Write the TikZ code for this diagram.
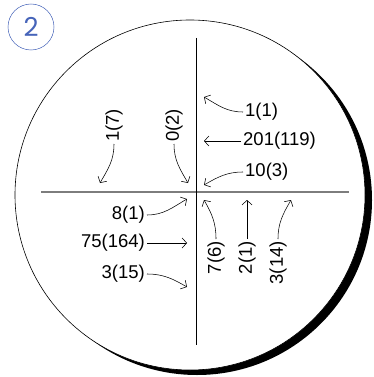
\documentclass[tikz,border=0pt]{standalone}
\usepackage{fontspec}
\setmainfont{Liberation Sans}
\newfontfamily\badgefont{Poppins}
\definecolor{badgeblue}{RGB}{70,100,185}
\definecolor{axisgray}{RGB}{125,125,125}
\usetikzlibrary{arrows.meta,positioning}

\begin{document}
\begin{tikzpicture}[x=1pt,y=-1pt,
    lbl/.style={font=\fontsize{18.5}{21}\selectfont, inner sep=2pt},
    arr/.style={-{Straight Barb[length=4.5pt,width=10pt]}, line width=0.55pt}]
    \useasboundingbox (0,0) rectangle (374,377);

    % Disc with its shadow
    \fill[black] (197,200) circle (175);
    \filldraw[fill=white, draw=black, line width=0.6pt] (190,195) circle (175);

    % Badge
    \node[circle, draw=badgeblue, line width=0.5pt, minimum size=46pt, inner sep=0pt,
          text=badgeblue, font=\badgefont\fontsize{26}{26}\selectfont] (badge) at (31,27) {2};

    % Cross
    \coordinate (vtop) at (196,38);
    \coordinate (vbot) at (196,345);
    \coordinate (hleft) at (41,192);
    \coordinate (hright) at (349,192);
    \draw[axisgray, line width=1.1pt] (hleft) -- (hright);
    \draw[line width=0.7pt] (vtop) -- (vbot);

    % Top left
    \node[lbl, rotate=90, anchor=west] (nw1) at (114,144) {1(7)};
    \node[lbl, rotate=90, anchor=west] (nw2) at (174,144) {0(2)};
    \coordinate (nw1h) at (100,183);
    \coordinate (nw2h) at (188,183);
    \draw[arr] (nw1.west) to[out=-90, in=60] (nw1h);
    \draw[arr] (nw2.west) to[out=-90, in=120] (nw2h);

    % Top right
    \node[lbl, anchor=west] (ne1) at (243,112) {1(1)};
    \node[lbl, anchor=west] (ne2) at (241,141) {201(119)};
    \node[lbl, anchor=west] (ne3) at (243,172) {10(3)};
    \coordinate (ne1h) at (204,97);
    \coordinate (ne2h) at (204,141);
    \coordinate (ne3h) at (204,185);
    \draw[arr] (ne1.west) to[out=180, in=-30] (ne1h);
    \draw[arr] (ne2.west) -- (ne2h);
    \draw[arr] (ne3.west) to[out=180, in=30] (ne3h);

    % Bottom left
    \node[lbl, anchor=east] (sw1) at (147,215) {8(1)};
    \node[lbl, anchor=east] (sw2) at (147,243) {75(164)};
    \node[lbl, anchor=east] (sw3) at (147,274) {3(15)};
    \coordinate (sw1h) at (187,199);
    \coordinate (sw2h) at (187,243);
    \coordinate (sw3h) at (187,287);
    \draw[arr] (sw1.east) to[out=0, in=210] (sw1h);
    \draw[arr] (sw2.east) -- (sw2h);
    \draw[arr] (sw3.east) to[out=0, in=150] (sw3h);

    % Bottom right
    \node[lbl, rotate=90, anchor=east] (se1) at (216,239) {7(6)};
    \node[lbl, rotate=90, anchor=east] (se2) at (247,239) {2(1)};
    \node[lbl, rotate=90, anchor=east] (se3) at (278,239) {3(14)};
    \coordinate (se1h) at (204,200);
    \coordinate (se2h) at (247,200);
    \coordinate (se3h) at (291,200);
    \draw[arr] (se1.east) to[out=90, in=-60] (se1h);
    \draw[arr] (se2.east) -- (se2h);
    \draw[arr] (se3.east) to[out=90, in=240] (se3h);
\end{tikzpicture}
\end{document}
